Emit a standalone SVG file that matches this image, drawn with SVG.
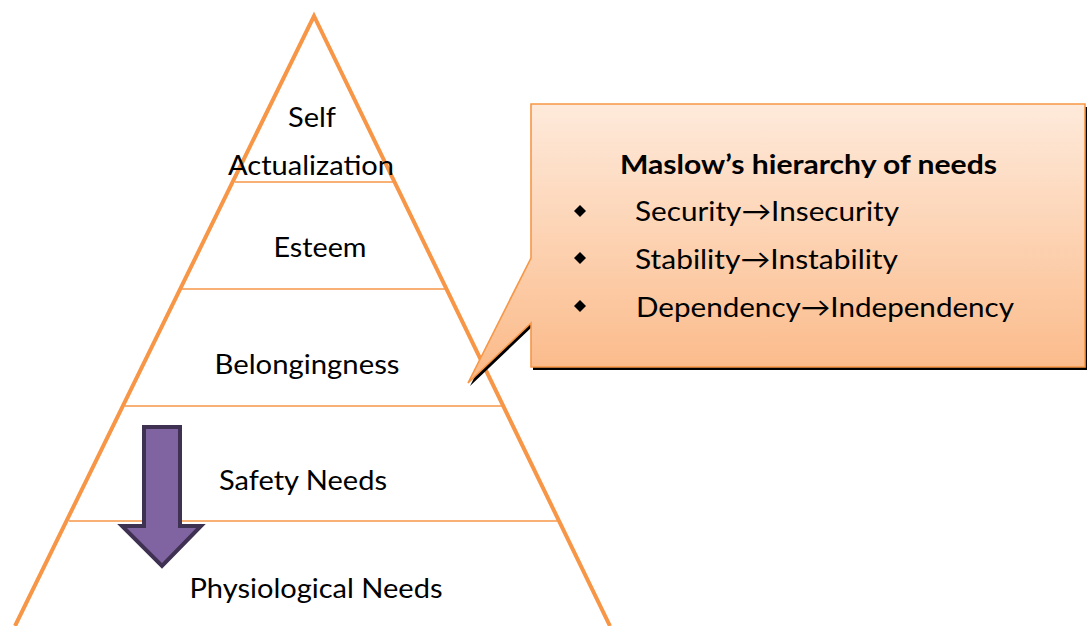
<svg xmlns="http://www.w3.org/2000/svg" width="1089" height="626" viewBox="0 0 1089 626">
  <defs>
    <linearGradient id="calloutFill" x1="0" y1="0" x2="0" y2="1">
      <stop offset="0" stop-color="#FEEADB"/>
      <stop offset="1" stop-color="#FBB987"/>
    </linearGradient>
  </defs>
  <style>
    .edge { fill: none; stroke: #F79646; stroke-width: 4; stroke-linejoin: miter; }
    .tier { stroke: #F79646; stroke-width: 1.6; }
    .label { font-family: Lato, "Open Sans", "Liberation Sans", sans-serif; font-size: 27px; fill: #000; }
    .title { font-family: Lato, "Open Sans", "Liberation Sans", sans-serif; font-size: 27px; font-weight: bold; fill: #000; }
    .bullet { fill: #000; }
  </style>

  <rect width="1089" height="626" fill="#fff"/>

  <!-- pyramid outline and tier dividers -->
  <g id="pyramid">
    <polyline class="edge" points="15,626 314,16 610,626"/>
    <line class="tier" x1="235" y1="182" x2="393" y2="182"/>
    <line class="tier" x1="181" y1="289" x2="445" y2="289"/>
    <line class="tier" x1="125" y1="406" x2="502" y2="406"/>
    <line class="tier" x1="69" y1="521" x2="557" y2="521"/>
  </g>

  <g id="tier-self-actualization">
    <text class="label" x="312" y="127" text-anchor="middle" textLength="48" lengthAdjust="spacingAndGlyphs">Self</text>
    <text class="label" x="311" y="175" text-anchor="middle" textLength="166" lengthAdjust="spacingAndGlyphs">Actualization</text>
  </g>
  <g id="tier-esteem">
    <text class="label" x="320" y="257" text-anchor="middle" textLength="93" lengthAdjust="spacingAndGlyphs">Esteem</text>
  </g>
  <g id="tier-belongingness">
    <text class="label" x="307" y="374" text-anchor="middle" textLength="185" lengthAdjust="spacingAndGlyphs">Belongingness</text>
  </g>
  <g id="tier-safety">
    <text class="label" x="303" y="490" text-anchor="middle" textLength="168" lengthAdjust="spacingAndGlyphs">Safety Needs</text>
  </g>
  <g id="tier-physiological">
    <text class="label" x="316" y="598" text-anchor="middle" textLength="253" lengthAdjust="spacingAndGlyphs">Physiological Needs</text>
  </g>

  <!-- downward block arrow -->
  <g id="down-arrow">
    <path d="M144,427 H180 V526 H201 L162,566 L122,526 H144 Z" fill="#8064A2" stroke="#3F3151" stroke-width="4" stroke-linejoin="miter"/>
  </g>

  <!-- callout box with pointer -->
  <g id="callout">
    <path d="M533,107 H1087 V370 H533 V326 L470,386 L533,261 Z" fill="#000"/>
    <path d="M531,104 H1085 V367 H531 V323 L468,383 L531,258 Z" fill="url(#calloutFill)" stroke="#F79646" stroke-width="1.6"/>
    <text class="title" x="620" y="174" textLength="377" lengthAdjust="spacingAndGlyphs">Maslow’s hierarchy of needs</text>
    <path class="bullet" d="M580,205 L586,211 L580,217 L574,211 Z"/>
    <path class="bullet" d="M580,252 L586,258 L580,264 L574,258 Z"/>
    <path class="bullet" d="M580,300 L586,306 L580,312 L574,306 Z"/>
    <text class="label" x="635" y="221" textLength="264" lengthAdjust="spacingAndGlyphs">Security→Insecurity</text>
    <text class="label" x="635" y="269" textLength="263" lengthAdjust="spacingAndGlyphs">Stability→Instability</text>
    <text class="label" x="636" y="317" textLength="378" lengthAdjust="spacingAndGlyphs">Dependency→Independency</text>
  </g>
</svg>
